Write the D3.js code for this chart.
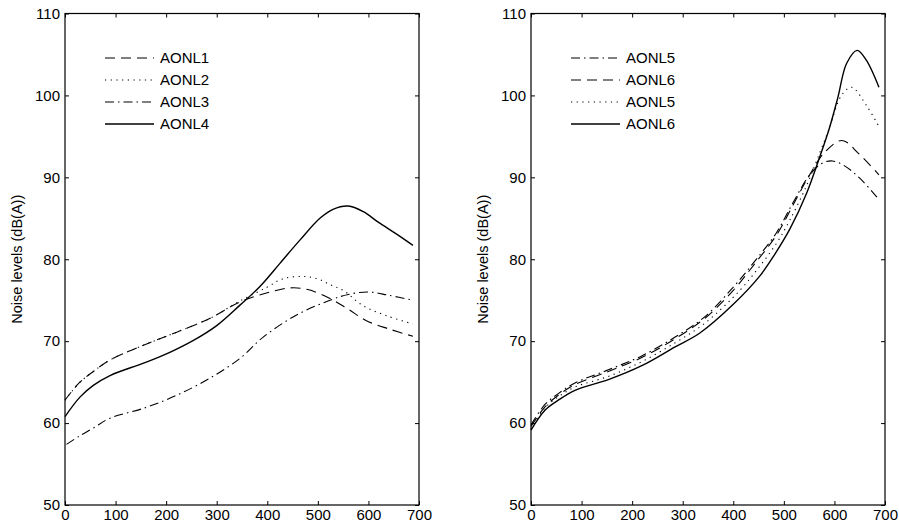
<!DOCTYPE html>
<html lang="en">
<head>
<meta charset="UTF-8">
<title>Noise levels</title>
<script src="https://cdn.jsdelivr.net/npm/d3@7"></script>
<style>
  body { margin: 0; background: #fff; }
  svg text { font-family: Arial, "Liberation Sans", Helvetica, sans-serif; fill: #000; }
</style>
</head>
<body>
<script>
// ---- data: [distance, dB(A)] ----
var xTicks = [0, 100, 200, 300, 400, 500, 600, 700];
var yTicks = [50, 60, 70, 80, 90, 100, 110];

var aonl1 = [[0,62.8],[28,64.9],[56,66.3],[89,67.7],[155,69.5],[221,71.1],[287,72.8],[346,74.8],[400,75.9],
             [445,76.5],[480,76.3],[524,75.2],[560,73.9],[596,72.5],[640,71.5],[688,70.6]];
var aonl2 = [[0,62.8],[28,64.9],[56,66.3],[89,67.7],[155,69.5],[221,71.1],[287,72.8],[346,74.9],[400,76.6],
             [430,77.6],[470,77.9],[500,77.6],[524,76.9],[550,76.2],[590,74.3],[636,73.1],[688,72.1]];
var aonl3 = [[3,57.4],[28,58.4],[56,59.4],[89,60.6],[155,61.8],[221,63.4],[287,65.5],[346,67.9],[392,70.5],
             [458,73.2],[524,75.0],[560,75.7],[600,76.0],[640,75.6],[688,75.0]];
var aonl4 = [[0,60.8],[30,63.2],[56,64.6],[89,65.8],[150,67.2],[188,68.1],[254,70.1],[300,71.9],[346,74.4],
             [385,76.65],[425,79.5],[464,82.3],[504,85.0],[530,86.1],[560,86.5],[590,85.8],[620,84.5],[655,83.1],[688,81.7]];

var aonl5a = [[0,59.8],[28,62.3],[54,63.6],[87,64.9],[153,66.5],[219,68.2],[285,70.5],[344,73.0],[400,76.6],
              [443,79.8],[486,83.3],[518,86.9],[551,90.3],[575,91.7],[596,92.0],[620,91.4],[650,89.9],[688,87.3]];
var aonl6a = [[0,59.6],[28,62.0],[54,63.4],[87,64.7],[153,66.3],[219,68.0],[285,70.3],[344,72.8],[400,76.2],
              [443,79.5],[486,83.0],[518,86.6],[551,90.3],[580,93.0],[615,94.5],[648,92.9],[688,90.3]];
var aonl5b = [[0,59.3],[28,61.9],[54,63.2],[87,64.4],[153,65.7],[219,67.5],[285,69.8],[344,72.2],[413,76.2],
              [453,79.2],[486,82.0],[512,84.8],[545,89.0],[571,93.0],[590,96.0],[614,100.0],[634,101.0],[663,98.8],[688,96.2]];
var aonl6b = [[0,59.15],[28,61.6],[54,62.8],[87,64.0],[153,65.3],[219,67.0],[285,69.3],[334,71.0],[400,74.5],
              [453,78.0],[482,80.6],[512,83.7],[545,88.05],[571,92.5],[590,96.0],[607,99.8],[624,103.9],[645,105.5],[663,104.3],[688,101.0]];

var leftNames = ["AONL1", "AONL2", "AONL3", "AONL4"];
var rightNames = ["AONL5", "AONL6", "AONL5", "AONL6"];

// ---- styles ----
var dashes = { dash: "10,6", dot: "1.2,4.5", dashdot: "9,4,1.5,4", solid: null };

var W = 899, H = 527;
var plotTop = 13.5, plotBottom = 505;

var svg = d3.select("body").append("svg").attr("width", W).attr("height", H);

function panel(x0, x1, series, names, styles, legendX) {
    var x = d3.scaleLinear().domain([0, 700]).range([x0, x1]);
    var y = d3.scaleLinear().domain([50, 110]).range([plotBottom, plotTop]);
    var g = svg.append("g");

    // axes, ticks pointing inward on all four sides
    g.append("g").attr("transform", "translate(0," + plotBottom + ")")
        .call(d3.axisBottom(x).tickValues(xTicks).tickSizeInner(-4).tickSizeOuter(0).tickPadding(4))
        .call(function (a) { a.selectAll("text").attr("font-size", 15).attr("dy", "0.75em"); });
    g.append("g").attr("transform", "translate(0," + plotTop + ")")
        .call(d3.axisTop(x).tickValues(xTicks).tickSizeInner(-4).tickSizeOuter(0).tickFormat(""));
    g.append("g").attr("transform", "translate(" + x0 + ",0)")
        .call(d3.axisLeft(y).tickValues(yTicks).tickSizeInner(-4).tickSizeOuter(0).tickPadding(5))
        .call(function (a) { a.selectAll("text").attr("font-size", 15); });
    g.append("g").attr("transform", "translate(" + x1 + ",0)")
        .call(d3.axisRight(y).tickValues(yTicks).tickSizeInner(-4).tickSizeOuter(0).tickFormat(""));
    g.selectAll(".domain").remove();
    g.append("rect").attr("x", x0).attr("y", plotTop).attr("width", x1 - x0).attr("height", plotBottom - plotTop)
        .attr("fill", "none").attr("stroke", "#000").attr("stroke-width", 1.2);
    g.selectAll(".tick line").attr("stroke", "#000");

    g.append("text")
        .attr("transform", "translate(" + (x0 - 48) + "," + ((plotTop + plotBottom) / 2) + ") rotate(-90)")
        .attr("text-anchor", "middle").attr("dy", "0.35em").attr("font-size", 14.5)
        .text("Noise levels (dB(A))");

    var line = d3.line().x(function (d) { return x(d[0]); }).y(function (d) { return y(d[1]); })
        .curve(d3.curveCatmullRom.alpha(0.5));

    series.forEach(function (s, i) {
        g.append("path").datum(s).attr("d", line)
            .attr("fill", "none").attr("stroke", "#000")
            .attr("stroke-width", styles[i] === "solid" ? 1.4 : 1.1)
            .attr("stroke-dasharray", dashes[styles[i]]);
    });

    // legend
    names.forEach(function (n, i) {
        var ly = 58 + i * 22;
        g.append("line").attr("x1", legendX).attr("x2", legendX + 49).attr("y1", ly).attr("y2", ly)
            .attr("stroke", "#000").attr("stroke-width", styles[i] === "solid" ? 1.4 : 1.1)
            .attr("stroke-dasharray", dashes[styles[i]]);
        g.append("text").attr("x", legendX + 55).attr("y", ly).attr("dy", "0.36em")
            .attr("font-size", 15).text(n);
    });
}

panel(65, 419, [aonl1, aonl2, aonl3, aonl4], leftNames, ["dash", "dot", "dashdot", "solid"], 105);
panel(531, 885, [aonl5a, aonl6a, aonl5b, aonl6b], rightNames, ["dashdot", "dash", "dot", "solid"], 571);
</script>
</body>
</html>
